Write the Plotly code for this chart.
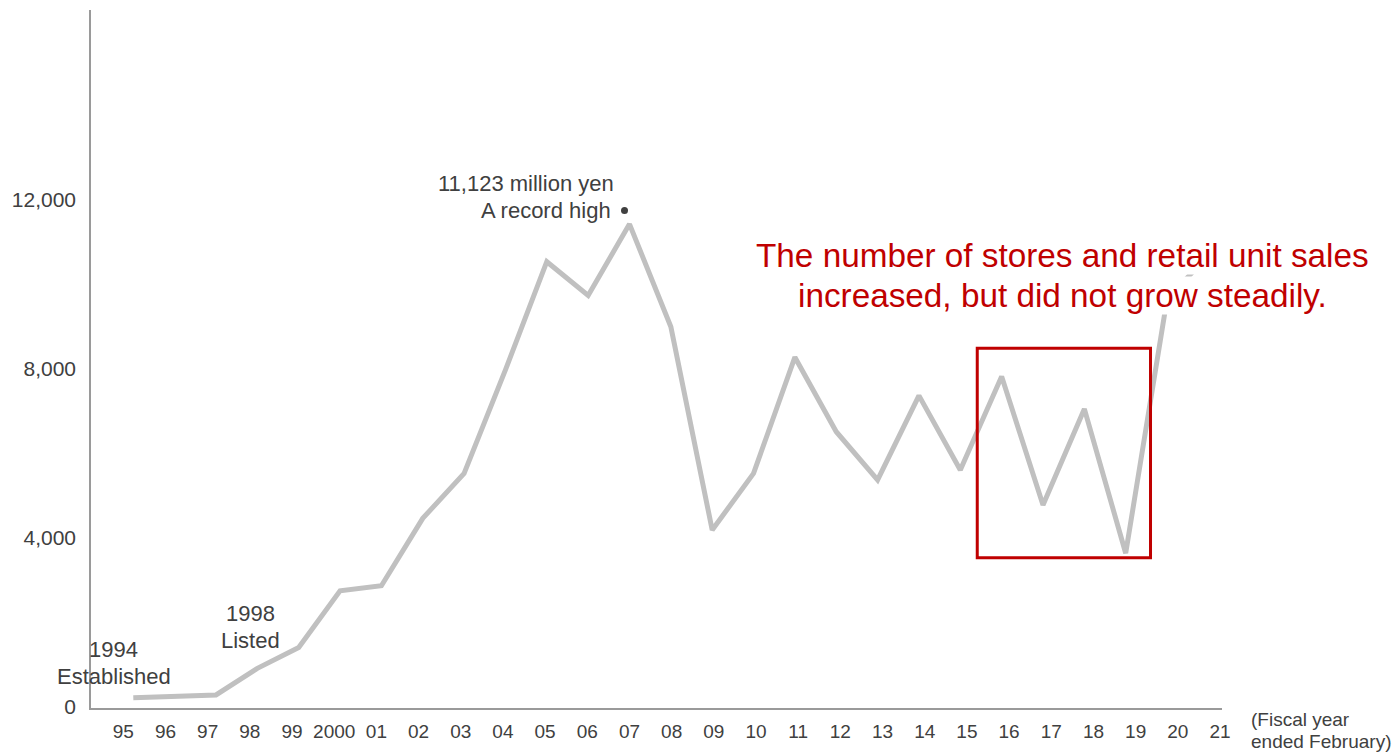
import plotly.graph_objects as go

# ---- data -------------------------------------------------------------
years = ["95", "96", "97", "98", "99", "2000", "01", "02", "03", "04", "05",
         "06", "07", "08", "09", "10", "11", "12", "13", "14", "15", "16",
         "17", "18", "19", "20", "21"]
sales = [220, 260, 285, 915, 1410, 2750, 2870, 4465, 5530, 7980, 10540,
         9740, 11430, 9000, 4190, 5530, 8280, 6515, 5375, 7370, 5610, 7820,
         4780, 7055, 3640, 9655, 10690]
y_ticks = [0, 4000, 8000, 12000]
y_tick_text = ["0", "4,000", "8,000", "12,000"]
highlight_years = ["16", "19"]

FONT = "Arial, 'Liberation Sans', sans-serif"
GRAY_TEXT = "#404040"
RED = "#c00000"

W, H = 1397, 756
L, R, T, B = 91, 175, 10, 48
PW, PH = W - L - R, H - T - B

def px(x):
    return (x - L) / PW

def py(y):
    return (H - B - y) / PH

xi = list(range(len(years)))
# labels are spaced slightly wider than the data points in the original
label_pos = [-0.242 + 1.0201 * i for i in xi]

fig = go.Figure()
fig.add_trace(go.Scatter(
    x=xi, y=sales, mode="lines",
    line=dict(color="#c0c0c0", width=5),
    hoverinfo="skip", showlegend=False,
))

# highlight box around the unstable years
i0, i1 = years.index(highlight_years[0]), years.index(highlight_years[1])
seg = sales[i0:i1 + 1]
fig.add_shape(type="rect", xref="x", yref="y",
              x0=i0 - 0.59, x1=i1 + 0.6,
              y0=min(seg) - 105, y1=max(seg) + 670,
              line=dict(color=RED, width=3), fillcolor="rgba(0,0,0,0)")

# record-high dot
ipk = sales.index(max(sales))
fig.add_shape(type="circle", xref="x", yref="y",
              xsizemode="pixel", ysizemode="pixel",
              xanchor=ipk, yanchor=sales[ipk],
              x0=-8.5, x1=-1.5, y0=10, y1=17,
              fillcolor="#404040", line=dict(width=0))

ann = []

def text(t, x, y, size, xanchor="center", color=GRAY_TEXT, bg=None):
    d = dict(xref="paper", yref="paper", x=px(x), y=py(y),
             xanchor=xanchor, yanchor="middle", text=t,
             font=dict(size=size, color=color, family=FONT), showarrow=False)
    if bg:
        d.update(bgcolor=bg, borderpad=0)
    ann.append(d)

text("11,123 million yen", 616, 184, 22, "right")
text("A record high", 613, 210, 22, "right")
text("1994", 113, 649, 22)
text("Established", 113.5, 676, 22)
text("1998", 250, 613, 22)
text("Listed", 250, 640, 22)
text("(Fiscal year", 1249, 719, 19, "left")
text("ended February)", 1249, 741, 19, "left")
text("The number of stores and retail unit sales", 1062.5, 256, 33.3,
     color=RED, bg="white")
text("increased, but did not grow steadily.", 1062, 296, 33.3,
     color=RED, bg="white")

x_lo = (L - 133.3) / 41.35
x_hi = (W - R - 133.3) / 41.35
y_hi = (707 - T) * 12000 / 507
y_lo = -(708 - 707) * 12000 / 507

fig.update_layout(
    width=W, height=H,
    margin=dict(l=L, r=R, t=T, b=B, pad=0),
    paper_bgcolor="white", plot_bgcolor="white",
    font=dict(family=FONT, color=GRAY_TEXT),
    annotations=ann,
    xaxis=dict(range=[x_lo, x_hi], tickmode="array", tickvals=label_pos,
               ticktext=years, showgrid=False, zeroline=False,
               showline=True, linecolor="#9a9a9a", linewidth=1.5,
               ticks="", ticklabelstandoff=5,
               tickfont=dict(size=19, color=GRAY_TEXT, family=FONT),
               fixedrange=True),
    yaxis=dict(range=[y_lo, y_hi], tickmode="array", tickvals=y_ticks,
               ticktext=y_tick_text, showgrid=False, zeroline=False,
               showline=True, linecolor="#9a9a9a", linewidth=1.5,
               ticks="", ticklabelstandoff=9,
               tickfont=dict(size=21, color=GRAY_TEXT, family=FONT),
               fixedrange=True),
)

fig.write_html("out.html", include_plotlyjs=True,
               config={"displayModeBar": False},
               post_script="document.body.style.margin='0';")
